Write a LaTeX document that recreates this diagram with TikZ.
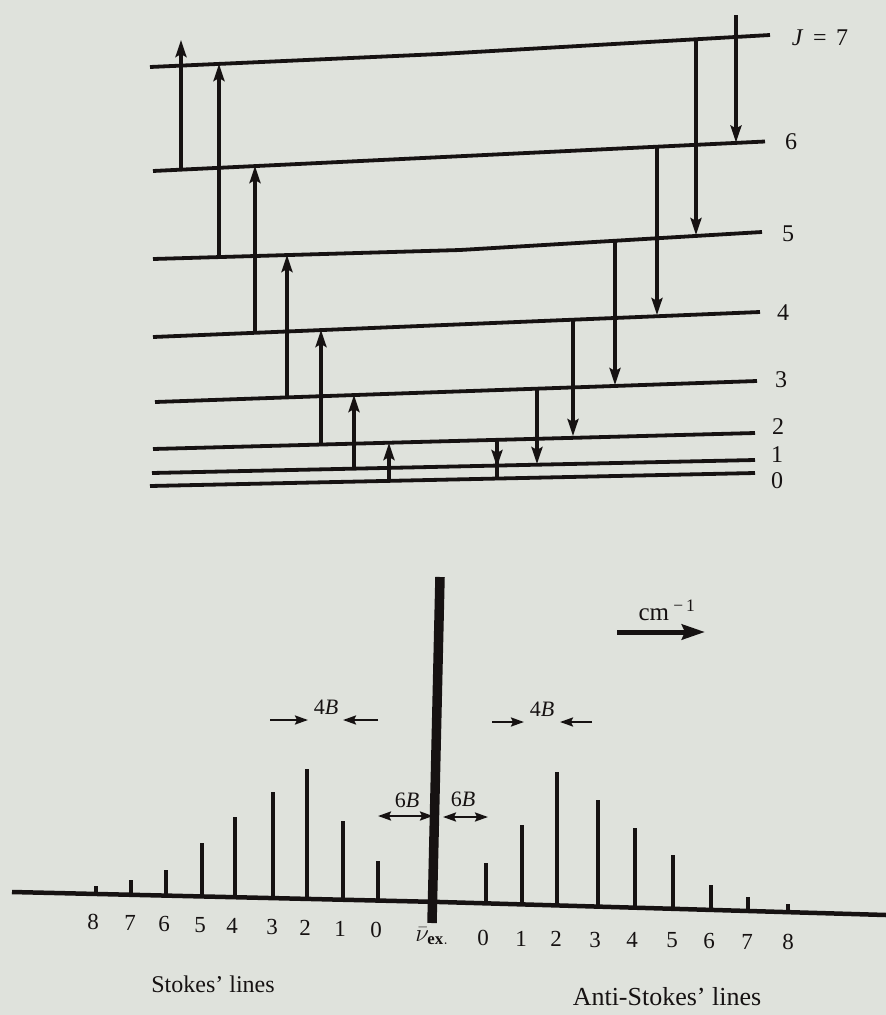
\documentclass[tikz,border=0pt]{standalone}
\usepackage{fontspec}
\setmainfont{Liberation Serif}
\usetikzlibrary{arrows.meta}
\definecolor{paper}{RGB}{223,226,220}
\definecolor{ink}{RGB}{22,18,18}
\begin{document}
\begin{tikzpicture}[x=1pt,y=-1pt,
  level/.style={draw=ink,line width=3.8pt},
  trans/.style={draw=ink,line width=3.3pt,-{Stealth[length=17pt,width=11pt,inset=3pt]}},
  plainline/.style={draw=ink,line width=3.3pt},
  specline/.style={draw=ink,line width=3.8pt},
  baseln/.style={draw=ink,line width=4.5pt},
  dimarrow/.style={draw=ink,line width=2.2pt,-{Stealth[length=13pt,width=9pt,inset=2pt]}},
  dimboth/.style={draw=ink,line width=2.2pt,{Stealth[length=13pt,width=9pt,inset=2pt]}-{Stealth[length=13pt,width=9pt,inset=2pt]}},
  bigarrow/.style={draw=ink,line width=5pt,-{Stealth[length=23pt,width=15pt,inset=3pt]}},
  toplbl/.style={text=ink,font=\fontsize{24}{24}\selectfont,inner sep=0pt},
  numlbl/.style={text=ink,font=\fontsize{23}{23}\selectfont,inner sep=0pt},
  txtlbl/.style={text=ink,font=\fontsize{24}{24}\selectfont,inner sep=0pt},
  blbl/.style={text=ink,font=\fontsize{22}{22}\selectfont,inner sep=0pt},
]
\fill[paper] (0,0) rectangle (886,1015);
\useasboundingbox (0,0) rectangle (886,1015);

% ---------------- energy levels ----------------
\coordinate (J7a) at (150,67);  \coordinate (J7m) at (440,54); \coordinate (J7b) at (770,35);
\coordinate (J6a) at (153,171); \coordinate (J6b) at (765,141.5);
\coordinate (J5a) at (153,259); \coordinate (J5m) at (460,250); \coordinate (J5b) at (762,232);
\coordinate (J4a) at (153,337); \coordinate (J4b) at (760,312);
\coordinate (J3a) at (155,402); \coordinate (J3b) at (757,381);
\coordinate (J2a) at (153,449); \coordinate (J2b) at (755,433);
\coordinate (J1a) at (152,473); \coordinate (J1b) at (755,460);
\coordinate (J0a) at (150,486); \coordinate (J0b) at (755,473);
\draw[level] (J7a) -- (J7m) -- (J7b);
\draw[level] (J6a) -- (J6b);
\draw[level] (J5a) -- (J5m) -- (J5b);
\draw[level] (J4a) -- (J4b);
\draw[level] (J3a) -- (J3b);
\draw[level] (J2a) -- (J2b);
\draw[level] (J1a) -- (J1b);
\draw[level] (J0a) -- (J0b);

\node[toplbl] (lJ7) at (820,38) {\textit{J}\hspace{0.4em}=\hspace{0.4em}7};
\node[toplbl] (l6) at (791,142) {6};
\node[toplbl] (l5) at (788,234) {5};
\node[toplbl] (l4) at (783,313) {4};
\node[toplbl] (l3) at (781,380) {3};
\node[toplbl] (l2) at (778,427) {2};
\node[toplbl] (l1) at (777,455) {1};
\node[toplbl] (l0) at (777,481) {0};

% ---------------- Stokes transitions (up) ----------------
\coordinate (u1s) at (181,170);   \coordinate (u1e) at (181,40);
\coordinate (u2s) at (219,257);   \coordinate (u2e) at (219,64);
\coordinate (u3s) at (255,333);   \coordinate (u3e) at (255,166);
\coordinate (u4s) at (287,397);   \coordinate (u4e) at (287,255);
\coordinate (u5s) at (321,444.5); \coordinate (u5e) at (321,330);
\coordinate (u6s) at (354,468.6); \coordinate (u6e) at (354,395);
\coordinate (u7s) at (389,481);   \coordinate (u7e) at (389,443);
\foreach \i in {1,...,7} { \draw[trans] (u\i s) -- (u\i e); }

% ---------------- anti-Stokes transitions (down) ----------------
\coordinate (d1s) at (736,15);  \coordinate (d1e) at (736,142.5);
\coordinate (d2s) at (696,38);  \coordinate (d2e) at (696,235);
\coordinate (d3s) at (657,147); \coordinate (d3e) at (657,315);
\coordinate (d4s) at (615,241); \coordinate (d4e) at (615,385);
\coordinate (d5s) at (573,320); \coordinate (d5e) at (573,436);
\coordinate (d6s) at (537,389); \coordinate (d6e) at (537,464);
\foreach \i in {1,...,6} { \draw[trans] (d\i s) -- (d\i e); }
\coordinate (d7s) at (497,440); \coordinate (d7e) at (497,478.5); \coordinate (d7h) at (497,467);
\draw[plainline] (d7s) -- (d7e);
\draw[trans] (d7s) -- (d7h);

% ---------------- spectrum ----------------
\coordinate (bl) at (12,892); \coordinate (bm) at (440,902); \coordinate (br) at (886,915);
\draw[baseln] (bl) -- (bm) -- (br);

\coordinate (ca) at (440,577); \coordinate (cb) at (432,923);
\draw[draw=ink,line width=9.5pt] (ca) -- (cb);

\foreach \x/\t [count=\i] in {96/886,131/880,166/870,202/843,235/817,273/792,307/769,343/821,378/861} {
  \coordinate (st\i) at (\x,\t);
  \coordinate (sb\i) at (\x,{892+(\x-12)*0.02336});
  \draw[specline] (st\i) -- (sb\i);
}
\foreach \x/\t [count=\i] in {486/863,522/825,557/772,598/800,635/828,673/855,711/885,748/897,788/904} {
  \coordinate (at\i) at (\x,\t);
  \coordinate (ab\i) at (\x,{902+(\x-440)*0.02915});
  \draw[specline] (at\i) -- (ab\i);
}

% Stokes labels
\foreach \x/\y/\n [count=\i] in {93/922/8,130/923/7,164/924/6,200/925/5,232/926/4,272/927/3,305/928/2,340/929/1,376/930/0} {
  \node[numlbl] (sl\i) at (\x,\y) {\n};
}
\foreach \x/\y/\n [count=\i] in {483/938/0,521/938.5/1,556/939/2,595/939.5/3,632/940/4,672/940.5/5,709/941/6,747/941.5/7,788/942/8} {
  \node[numlbl] (al\i) at (\x,\y) {\n};
}
\node[text=ink,inner sep=0pt,font=\fontsize{24}{24}\selectfont] (nuex) at (432,936) {$\bar{\nu}_{\mathbf{ex.}}$};

\node[txtlbl] (stokes) at (213,984) {Stokes’ lines};
\node[text=ink,inner sep=0pt,font=\fontsize{26}{26}\selectfont] (astokes) at (667,997) {Anti-Stokes’ lines};

% 4B markers
\node[blbl] (fbl) at (326,707) {4\textit{B}};
\coordinate (fa1) at (270,720); \coordinate (fa2) at (308,720);
\coordinate (fa3) at (378,720); \coordinate (fa4) at (343,720);
\draw[dimarrow] (fa1) -- (fa2);
\draw[dimarrow] (fa3) -- (fa4);
\node[blbl] (fbr) at (542,709) {4\textit{B}};
\coordinate (fb1) at (492,722); \coordinate (fb2) at (524,722);
\coordinate (fb3) at (592,722); \coordinate (fb4) at (560,722);
\draw[dimarrow] (fb1) -- (fb2);
\draw[dimarrow] (fb3) -- (fb4);

% 6B markers
\node[blbl] (sbl) at (407,800) {6\textit{B}};
\coordinate (sa1) at (378,816); \coordinate (sa2) at (433,816);
\draw[dimboth] (sa1) -- (sa2);
\node[blbl] (sbr) at (463,799) {6\textit{B}};
\coordinate (sc1) at (443,817); \coordinate (sc2) at (488,817);
\draw[dimboth] (sc1) -- (sc2);

% cm^-1
\node[text=ink,inner sep=0pt,font=\fontsize{25}{25}\selectfont] (cm) at (667,610) {cm\,\textsuperscript{−\,1}};
\coordinate (cma) at (617,632); \coordinate (cmb) at (705,632);
\draw[bigarrow] (cma) -- (cmb);
\end{tikzpicture}
\end{document}
